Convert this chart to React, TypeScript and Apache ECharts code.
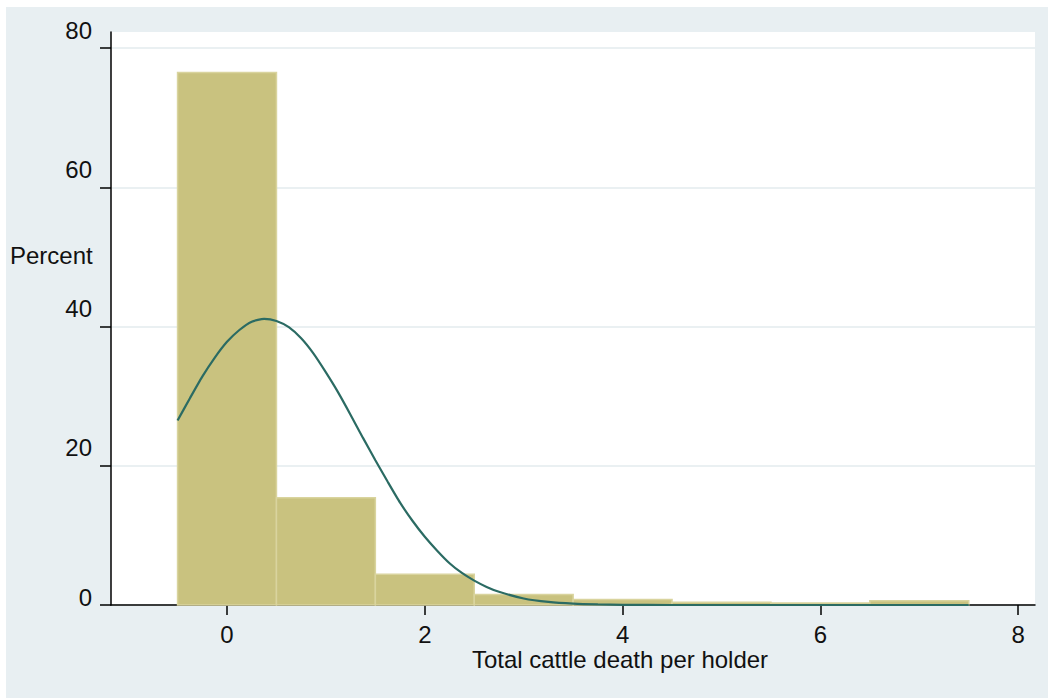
import React, { useEffect, useRef } from "react";
import * as echarts from "echarts";

// Histogram bins (left edges, width 1) and percent values
const binStarts = [-0.5, 0.5, 1.5, 2.5, 3.5, 4.5, 5.5, 6.5];
const binWidth = 1;
const binPercents = [76.5, 15.4, 4.4, 1.5, 0.8, 0.4, 0.3, 0.6];

// Normal density overlay
const curveX = [-0.5, -0.375, -0.25, -0.125, 0, 0.125, 0.25, 0.375, 0.5, 0.625, 0.75, 0.875, 1.0, 1.125, 1.25, 1.375, 1.5, 1.625, 1.75, 1.875, 2.0, 2.125, 2.25, 2.375, 2.5, 2.625, 2.75, 3.0, 3.25, 3.5, 3.75, 4.0, 4.5, 5.0, 6.0, 7.0, 7.5];
const curveY = [26.5, 29.7, 32.8, 35.5, 37.8, 39.5, 40.7, 41.1, 40.8, 39.9, 38.3, 36.1, 33.4, 30.5, 27.3, 24.0, 20.8, 17.7, 14.7, 12.1, 9.8, 7.8, 6.0, 4.6, 3.5, 2.6, 1.9, 0.94, 0.44, 0.19, 0.08, 0.03, 0.0, 0.0, 0.0, 0.0, 0.0];

const xTicks = [0, 2, 4, 6, 8];
const yTicks = [0, 20, 40, 60, 80];

const xTitle = "Total cattle death per holder";
const yTitle = "Percent";

const FONT = "'Liberation Sans', Arial, sans-serif";

export default function App() {
  const ref = useRef<HTMLDivElement>(null);
  useEffect(() => {
    if (!ref.current) return;
    const chart = echarts.init(ref.current, null, { renderer: "svg" });
    const barData = binStarts.map((s, i) => [s, s + binWidth, binPercents[i]]);
    const lineData = curveX.map((x, i) => [x, curveY[i]]);
    chart.setOption({
      animation: false,
      backgroundColor: "#e8eff2",
      grid: {
        left: 105,
        top: 25,
        right: 13,
        bottom: 93,
        show: true,
        backgroundColor: "#ffffff",
        borderWidth: 0,
      },
      xAxis: {
        type: "value",
        min: -1.173,
        max: 8.17,
        axisLine: { show: true, onZero: false, lineStyle: { color: "#000", width: 1.5 } },
        axisTick: { show: true, length: 10, lineStyle: { color: "#000", width: 1.5 }, customValues: xTicks },
        axisLabel: {
          customValues: xTicks,
          margin: 17,
          fontSize: 24,
          color: "#111",
          fontFamily: FONT,
        },
        splitLine: { show: false },
      },
      yAxis: {
        type: "value",
        min: 0,
        max: 82.3,
        interval: 20,
        axisLine: { show: true, onZero: false, lineStyle: { color: "#000", width: 1.5 } },
        axisTick: { show: true, length: 11, lineStyle: { color: "#000", width: 1.5 }, customValues: yTicks },
        axisLabel: {
          customValues: yTicks,
          margin: 19,
          verticalAlign: "bottom",
          formatter: (v: number) => (v === 0 ? "{z|0}" : "{n|" + v + "}"),
          rich: {
            n: { fontSize: 24, lineHeight: 36, color: "#111", fontFamily: FONT },
            z: { fontSize: 24, lineHeight: 16, color: "#111", fontFamily: FONT },
          },
        },
        splitLine: { show: true, lineStyle: { color: "#e3ebee", width: 1.5 } },
      },
      graphic: [
        {
          type: "text",
          x: 4,
          y: 248,
          style: { text: yTitle, font: "24px " + FONT, fill: "#111", align: "left", verticalAlign: "middle" },
        },
        {
          type: "text",
          x: 614,
          y: 652,
          style: { text: xTitle, font: "24px " + FONT, fill: "#111", align: "center", verticalAlign: "middle" },
        },
      ],
      series: [
        {
          type: "custom",
          data: barData,
          encode: { x: [0, 1], y: 2 },
          z: 2,
          renderItem: (params: any, api: any) => {
            const p0 = api.coord([api.value(0), api.value(2)]);
            const p1 = api.coord([api.value(1), 0]);
            return {
              type: "rect",
              shape: { x: p0[0], y: p0[1], width: p1[0] - p0[0], height: p1[1] - p0[1] },
              style: { fill: "#c9c27f", stroke: "#d9d49e", lineWidth: 1.5 },
            };
          },
        },
        {
          type: "line",
          data: lineData,
          smooth: 0.2,
          showSymbol: false,
          symbol: "none",
          z: 3,
          lineStyle: { color: "#2b6b63", width: 2.2 },
        },
      ],
    });
    return () => chart.dispose();
  }, []);
  return (
    <div
      ref={ref}
      style={{ position: "absolute", left: 6, top: 7, width: 1042, height: 691 }}
    />
  );
}
